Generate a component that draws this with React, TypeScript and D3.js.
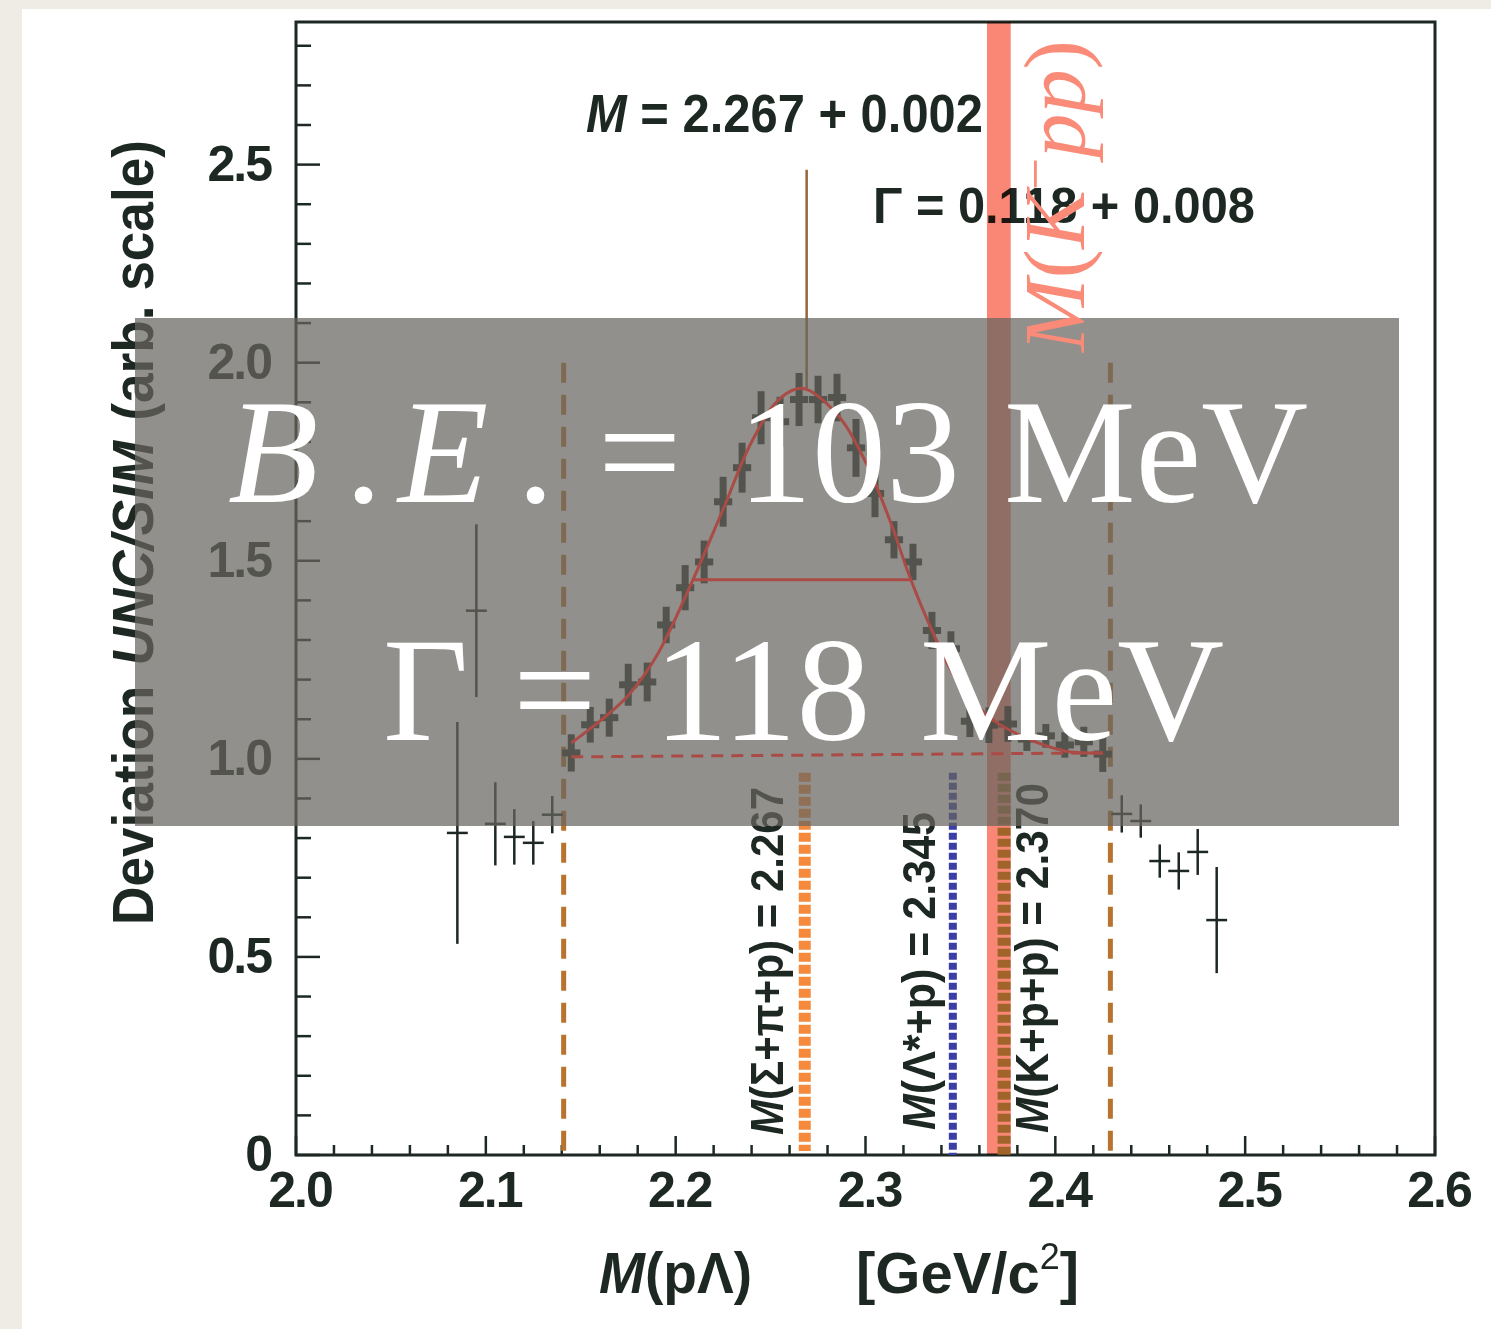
import React from 'react';
import * as d3 from 'd3';

const W = 1491;
const H = 1329;

// bins inside the fit window
const peakMass = [2.145, 2.155, 2.165, 2.175, 2.185, 2.195, 2.205, 2.215, 2.225, 2.235, 2.245, 2.255, 2.265, 2.275, 2.285, 2.295, 2.305, 2.315, 2.325, 2.335, 2.345, 2.355, 2.365, 2.375, 2.385, 2.395, 2.405, 2.415, 2.425];
const peakVal = [1.015, 1.086, 1.104, 1.187, 1.194, 1.338, 1.432, 1.497, 1.649, 1.735, 1.861, 1.851, 1.907, 1.907, 1.912, 1.785, 1.67, 1.553, 1.497, 1.324, 1.278, 1.095, 1.085, 1.088, 1.05, 1.058, 1.035, 1.043, 1.012];
const peakErr = [0.047, 0.045, 0.048, 0.053, 0.049, 0.046, 0.057, 0.054, 0.063, 0.063, 0.067, 0.063, 0.067, 0.06, 0.06, 0.073, 0.06, 0.047, 0.046, 0.047, 0.044, 0.04, 0.045, 0.045, 0.03, 0.03, 0.032, 0.038, 0.045];

// bins outside the fit window
const sideMass = [2.085, 2.095, 2.105, 2.115, 2.125, 2.135, 2.435, 2.445, 2.455, 2.465, 2.475, 2.485];
const sideVal = [0.813, 1.374, 0.836, 0.803, 0.788, 0.859, 0.861, 0.843, 0.742, 0.717, 0.765, 0.593];
const sideErr = [0.28, 0.218, 0.105, 0.07, 0.055, 0.047, 0.047, 0.042, 0.042, 0.047, 0.058, 0.134];

// fitted curve
const fitMass = [2.145, 2.16, 2.175, 2.19, 2.208, 2.225, 2.24, 2.255, 2.267, 2.285, 2.3, 2.313, 2.3235, 2.3356, 2.348, 2.365, 2.383, 2.405, 2.425];
const fitVal = [1.04, 1.095, 1.16, 1.26, 1.44, 1.63, 1.8, 1.91, 1.935, 1.87, 1.75, 1.6, 1.457, 1.318, 1.2, 1.106, 1.056, 1.02, 1.015];

const baseMass = [2.145, 2.425];
const baseVal = [1.005, 1.015];
const fwhmMass = [2.2095, 2.3245];
const fwhmVal = 1.452;

const peakPos = 2.269;
const peakLine = [1.93, 2.487];

const cutMass = [2.141, 2.429];
const markerMass = [2.268, 2.346, 2.373];
const markerTop = 0.965;
const bandMass = [2.364, 2.3765];

const xMajor = [2.0, 2.1, 2.2, 2.3, 2.4, 2.5, 2.6];
const xTickLabels = ['2.0', '2.1', '2.2', '2.3', '2.4', '2.5', '2.6'];
const yMajor = [0, 0.5, 1.0, 1.5, 2.0, 2.5];
const yTickLabels = ['0', '0.5', '1.0', '1.5', '2.0', '2.5'];

const INK = '#1d2823';
const SANS = '"Liberation Sans", Arial, Helvetica, sans-serif';
const SERIF = '"Liberation Serif", "Times New Roman", serif';

export default function App() {
  const x = d3.scaleLinear().domain([2.0, 2.6]).range([296, 1435]);
  const y = d3.scaleLinear().domain([0, 2.86]).range([1155, 22]);

  const xMinor = d3.range(0, 31).map((i) => +(2.0 + i * 0.02).toFixed(2));
  const yMinor = d3.range(0, 29).map((i) => +(i * 0.1).toFixed(1));

  const fitLine = d3
    .line<number>()
    .x((d, i) => x(fitMass[i]))
    .y((d) => y(d))
    .curve(d3.curveCatmullRom.alpha(0.5));

  const fitColor = '#aa4b46';

  return (
    <svg width={W} height={H} style={{ position: 'absolute', left: 0, top: 0 }}>
      <rect x={0} y={0} width={W} height={H} fill="#efece6" />
      <rect x={22} y={9} width={W - 22} height={H - 9} fill="#ffffff" />

      {/* frame */}
      <rect x={x(2.0)} y={y(2.86)} width={x(2.6) - x(2.0)} height={y(0) - y(2.86)} fill="none" stroke={INK} strokeWidth={3} />

      {/* x ticks */}
      {xMinor.map((v) => {
        const major = xMajor.some((m) => Math.abs(m - v) < 1e-6);
        return <line key={'xt' + v} x1={x(v)} x2={x(v)} y1={y(0)} y2={y(0) - (major ? 19 : 10)} stroke={INK} strokeWidth={2.5} />;
      })}
      {xMajor.map((v, i) => (
        <text key={'xl' + v} x={x(v) + 4} y={1207} textAnchor="middle" fontFamily={SANS} fontWeight="bold" fontSize={50} letterSpacing={-2} fill={INK}>
          {xTickLabels[i]}
        </text>
      ))}

      {/* y ticks */}
      {yMinor.map((v) => {
        const major = yMajor.some((m) => Math.abs(m - v) < 1e-6);
        return <line key={'yt' + v} x1={x(2.0)} x2={x(2.0) + (major ? 24 : 15)} y1={y(v)} y2={y(v)} stroke={INK} strokeWidth={2.5} />;
      })}
      {yMajor.map((v, i) => (
        <text key={'yl' + v} x={271} y={y(v) + 16} textAnchor="end" fontFamily={SANS} fontWeight="bold" fontSize={50} letterSpacing={-2} fill={INK}>
          {yTickLabels[i]}
        </text>
      ))}

      {/* axis titles */}
      <text transform="translate(153,925) rotate(-90)" fontFamily={SANS} fontWeight="bold" fontSize={58} fill={INK} textLength={785} lengthAdjust="spacingAndGlyphs">
        <tspan>Deviation</tspan>
        <tspan dx={22} fontStyle="italic">UNC/SIM</tspan>
        <tspan dx={22}>(arb. scale)</tspan>
      </text>
      <text x={599} y={1293} fontFamily={SANS} fontWeight="bold" fontSize={58} fill={INK} textLength={153} lengthAdjust="spacingAndGlyphs">
        <tspan fontStyle="italic">M</tspan>
        <tspan>(pΛ)</tspan>
      </text>
      <text x={856} y={1293} fontFamily={SANS} fontWeight="bold" fontSize={58} fill={INK}>
        <tspan>[GeV/c</tspan>
        <tspan dy={-24} fontSize={36} fontWeight="normal">2</tspan>
        <tspan dy={24}>]</tspan>
      </text>

      {/* fit results */}
      <text x={586} y={132} fontFamily={SANS} fontWeight="bold" fontSize={54} fill={INK} textLength={397} lengthAdjust="spacingAndGlyphs">
        <tspan fontStyle="italic">M</tspan>
        <tspan> = 2.267 + 0.002</tspan>
      </text>
      <text x={873} y={223} fontFamily={SANS} fontWeight="bold" fontSize={50} fill={INK} textLength={382} lengthAdjust="spacingAndGlyphs">
        Γ = 0.118 + 0.008
      </text>

      {/* fit window limits */}
      {cutMass.map((m) => (
        <line key={'cut' + m} x1={x(m)} x2={x(m)} y1={y(2.0)} y2={y(0)} stroke="#b8732f" strokeWidth={5} strokeDasharray="20 12" />
      ))}
      <line x1={x(peakPos)} x2={x(peakPos)} y1={y(peakLine[1])} y2={y(peakLine[0])} stroke="#94663a" strokeWidth={2.5} />

      {/* data points */}
      {sideMass.map((m, i) => (
        <g key={'s' + m} stroke={INK} strokeWidth={2.5}>
          <line x1={x(m)} x2={x(m)} y1={y(sideVal[i] - sideErr[i])} y2={y(sideVal[i] + sideErr[i])} />
          <line x1={x(m - 0.0055)} x2={x(m + 0.0055)} y1={y(sideVal[i])} y2={y(sideVal[i])} />
        </g>
      ))}
      {peakMass.map((m, i) => (
        <g key={'p' + m} stroke={INK} strokeWidth={7}>
          <line x1={x(m)} x2={x(m)} y1={y(peakVal[i] - peakErr[i])} y2={y(peakVal[i] + peakErr[i])} />
          <line x1={x(m - 0.0048)} x2={x(m + 0.0048)} y1={y(peakVal[i])} y2={y(peakVal[i])} />
        </g>
      ))}

      {/* threshold markers */}
      <line x1={x(markerMass[0])} x2={x(markerMass[0])} y1={y(markerTop)} y2={y(0.01)} stroke="#f58a3d" strokeWidth={12} strokeDasharray="9 3" />
      <line x1={x(markerMass[1])} x2={x(markerMass[1])} y1={y(markerTop)} y2={y(0)} stroke="#3a3ea6" strokeWidth={8} strokeDasharray="7 3" />
      <text transform={`translate(${x(markerMass[0]) - 22},1135) rotate(-90)`} fontFamily={SANS} fontWeight="bold" fontSize={46} fill={INK} textLength={348} lengthAdjust="spacingAndGlyphs">
        <tspan fontStyle="italic">M</tspan>
        <tspan>(Σ+π+p) = 2.267</tspan>
      </text>
      <text transform={`translate(${x(markerMass[1]) - 18},1130) rotate(-90)`} fontFamily={SANS} fontWeight="bold" fontSize={46} fill={INK} textLength={318} lengthAdjust="spacingAndGlyphs">
        <tspan fontStyle="italic">M</tspan>
        <tspan>(Λ*+p) = 2.345</tspan>
      </text>
      <text transform={`translate(${x(markerMass[2]) + 44},1133) rotate(-90)`} fontFamily={SANS} fontWeight="bold" fontSize={46} fill={INK} textLength={350} lengthAdjust="spacingAndGlyphs">
        <tspan fontStyle="italic">M</tspan>
        <tspan>(K+p+p) = 2.370</tspan>
      </text>

      {/* K-pp band */}
      <rect x={x(bandMass[0])} y={y(2.86)} width={x(bandMass[1]) - x(bandMass[0])} height={y(0) - y(2.86)} fill="#fa8775" style={{ mixBlendMode: 'multiply' }} />
      <line x1={x(markerMass[2])} x2={x(markerMass[2])} y1={y(markerTop)} y2={y(0)} stroke="#a0642a" strokeWidth={13} strokeDasharray="8 3" />

      {/* grey box */}
      <rect x={135} y={318} width={1264} height={508} fill="rgb(104,101,96)" fillOpacity={0.72} />

      {/* fit curve, baseline, FWHM */}
      <path d={fitLine(fitVal) || ''} fill="none" stroke={fitColor} strokeWidth={3} />
      <line x1={x(baseMass[0])} x2={x(baseMass[1])} y1={y(baseVal[0])} y2={y(baseVal[1])} stroke={fitColor} strokeWidth={3} strokeDasharray="12 8" />
      <line x1={x(fwhmMass[0])} x2={x(fwhmMass[1])} y1={y(fwhmVal)} y2={y(fwhmVal)} stroke={fitColor} strokeWidth={3} />

      {/* big labels */}
      <text y={502} fontFamily={SERIF} fontSize={148} fill="#ffffff">
        <tspan x={228} fontStyle="italic">B</tspan>
        <tspan x={345}>.</tspan>
        <tspan x={398} fontStyle="italic">E</tspan>
        <tspan x={517}>.</tspan>
        <tspan x={598}>=</tspan>
        <tspan x={738}>103</tspan>
        <tspan x={1004}>MeV</tspan>
      </text>
      <text y={740} fontFamily={SERIF} fontSize={148} fill="#ffffff">
        <tspan x={383}>Γ</tspan>
        <tspan x={513}>=</tspan>
        <tspan x={654}>118</tspan>
        <tspan x={920}>MeV</tspan>
      </text>

      <text transform="translate(1084,352) rotate(-90)" fontFamily={SERIF} fontSize={86} fill="#fa8b78" textLength={312} lengthAdjust="spacingAndGlyphs">
        <tspan fontStyle="italic">M</tspan>
        <tspan>(</tspan>
        <tspan fontStyle="italic">K</tspan>
        <tspan dy={-30} fontSize={56}>−</tspan>
        <tspan dy={30} fontStyle="italic">pp</tspan>
        <tspan>)</tspan>
      </text>
    </svg>
  );
}
